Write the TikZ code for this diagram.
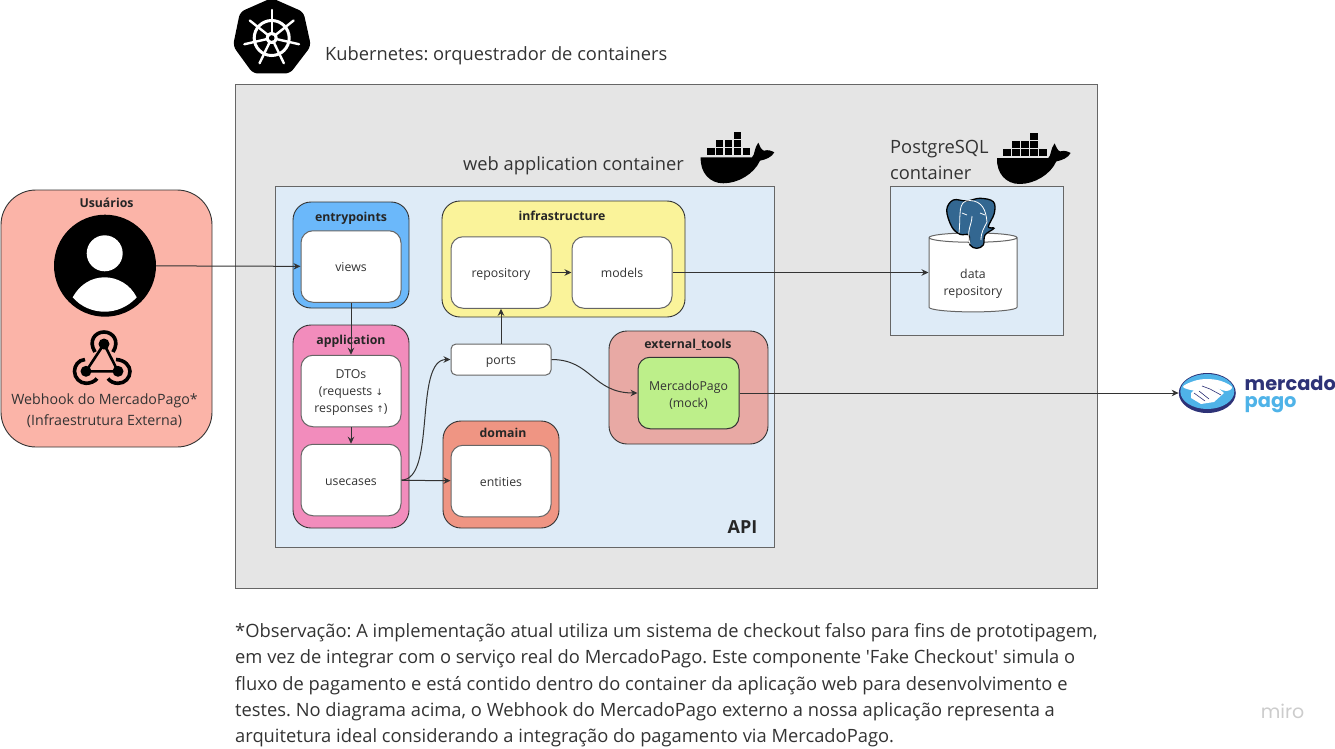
\documentclass[tikz,border=0pt]{standalone}
\usepackage{fontspec}
\setmainfont{Open Sans}
\newfontfamily\notefont{Open Sans}
\newfontfamily\arrowfont{DejaVu Sans}
\newfontfamily\logofont{Poppins}
\usetikzlibrary{arrows.meta,shapes.geometric}
\definecolor{inkgray}{HTML}{333333}
\definecolor{edgegray}{HTML}{666666}
\definecolor{clustergray}{HTML}{E5E5E5}
\definecolor{apiblue}{HTML}{DEEBF7}
\definecolor{usersred}{HTML}{FBB4A8}
\definecolor{entryblue}{HTML}{6BB8FA}
\definecolor{infrayellow}{HTML}{FAF39A}
\definecolor{apppink}{HTML}{F28CBC}
\definecolor{domainred}{HTML}{EF9583}
\definecolor{toolsred}{HTML}{E8A9A4}
\definecolor{mockgreen}{HTML}{BDEF8A}
\definecolor{pgblue}{HTML}{336791}
\definecolor{mpnavy}{HTML}{2D3277}
\definecolor{mpblue}{HTML}{4FB3E8}
\newcommand{\boxstrut}{\rule[-3.2pt]{0pt}{16.6pt}}
\tikzset{
    conn/.style={draw=inkgray, line width=1pt, -{Stealth[length=7pt,width=6.5pt]}},
    planebox/.style={draw=edgegray, line width=1.2pt, anchor=north west, inner sep=0pt},
    groupbox/.style={draw=inkgray, line width=0.9pt, rounded corners=18pt, inner sep=0pt},
    innerbox/.style={draw=edgegray, line width=1pt, fill=white, rounded corners=12pt,
            inner sep=0pt, minimum width=100pt, minimum height=71.5pt, align=center,
            text=inkgray, font=\fontsize{12.3}{17}\selectfont,
            execute at begin node=\boxstrut, execute at end node=\boxstrut},
    grouptitle/.style={text=black!85, font=\fontsize{12.3}{15}\selectfont\bfseries, inner sep=0pt,
            execute at begin node=\boxstrut},
    bigtext/.style={text=inkgray, font=\fontsize{18.3}{25.5}\selectfont, inner sep=0pt, align=left},
    dockerwhale/.pic={
            \foreach \bx/\by in {33.7/2,15.7/10,24.7/10,33.7/10,7/18.3,15.7/18.3,24.7/18.3,33.7/18.3,42.7/18.3} {
                    \fill[black] (\bx,\by) rectangle +(7.5,6.8);
                }
            \fill[black] (0.7,27.3) -- (52,27.3) .. controls (55,25) and (54,18) .. (58.3,12.7)
            .. controls (60,16) and (61,20) .. (64,20.7) .. controls (68,19.5) and (71,20.5) .. (74.3,22.3)
            .. controls (72,27) and (66,29.5) .. (60,30.7) .. controls (54,44) and (38,53.3) .. (23.3,53.3)
            .. controls (10,53.3) and (0,43) .. (0.7,27.3) -- cycle;
        }
}
\begin{document}
\frenchspacing
\begin{tikzpicture}[x=1pt, y=-1pt]
    \useasboundingbox (0,0) rectangle (1335,749);
    % Containers
    \node (cluster) [planebox, fill=clustergray, minimum width=862pt, minimum height=504pt] at (235,84) {};
    \node (api) [planebox, fill=apiblue, minimum width=499pt, minimum height=361pt] at (275,186) {};
    \node (pgbox) [planebox, fill=apiblue, minimum width=173pt, minimum height=149pt] at (890,186) {};
    \node (users) [groupbox, fill=usersred, rounded corners=35pt, minimum width=211pt, minimum height=257pt] at (106.5,318.5) {};
    % Groups
    \node (entrypoints) [groupbox, fill=entryblue, minimum width=116pt, minimum height=106pt] at (351,255) {};
    \node (infrastructure) [groupbox, fill=infrayellow, minimum width=243pt, minimum height=116pt] at (563.5,259) {};
    \node (application) [groupbox, fill=apppink, minimum width=116pt, minimum height=203pt] at (351,426.5) {};
    \node (domain) [groupbox, fill=domainred, minimum width=116pt, minimum height=107pt] at (501,474.5) {};
    \node (tools) [groupbox, fill=toolsred, minimum width=159pt, minimum height=113pt] at (688.5,387.5) {};
    % Group titles
    \node (usersTitle) [grouptitle] at (106.5,202.5) {Usuários};
    \node (entryTitle) [grouptitle] at (351,216.3) {entrypoints};
    \node (infraTitle) [grouptitle] at (562,215.3) {infrastructure};
    \node (appTitle) [grouptitle] at (351,339.3) {application};
    \node (domainTitle) [grouptitle] at (503,432.3) {domain};
    \node (toolsTitle) [grouptitle] at (688,343.3) {external\_tools};
    % Inner boxes
    \node (views) [innerbox] at (351,266.5) {views};
    \node (repository) [innerbox] at (501,272.5) {repository};
    \node (models) [innerbox] at (622,272.5) {models};
    \node (dtos) [innerbox] at (351,391) {\rule{0pt}{13pt}DTOs\\(requests {\arrowfont\fontsize{9}{9}\selectfont ↓}\\responses {\arrowfont\fontsize{9}{9}\selectfont ↑})};
    \node (usecases) [innerbox] at (351,480) {usecases};
    \node (entities) [innerbox] at (501,481) {entities};
    \node (ports) [innerbox, rounded corners=5pt, minimum height=31pt] at (501,359.5) {ports};
    \node (mock) [innerbox, fill=mockgreen, draw=inkgray, minimum width=101pt] at (688.5,393) {\rule{0pt}{14.5pt}MercadoPago\\(mock)};
    \node (data) [cylinder, shape border rotate=90, aspect=0.16, draw=edgegray, line width=1pt, cylinder uses custom fill,
        cylinder body fill=white, cylinder end fill=white, inner sep=0pt, minimum width=88pt, minimum height=79pt,
        align=center, text=inkgray, font=\fontsize{12.3}{17}\selectfont] at (973,275) {\rule{0pt}{9pt}\\data\\repository};
    % Big labels
    \node (k8sLabel) [bigtext, anchor=west] at (325,56.2) {Kubernetes: orquestrador de containers};
    \node (webLabel) [bigtext, anchor=west] at (463,166.2) {web application container};
    \node (pgLabel) [bigtext, anchor=north west] at (890,140.5) {PostgreSQL\\container};
    \node (apiLabel) [text=black!85, font=\fontsize{18}{20}\selectfont\bfseries, inner sep=0pt] at (742.5,527.5) {API};
    \node (webhookLabel) [align=center, text=inkgray, inner sep=0pt, font=\fontsize{14.2}{21}\selectfont] at (104.5,411) {Webhook do MercadoPago*\\(Infraestrutura Externa)};
    \node (note) [anchor=north west, align=left, text=inkgray, inner sep=0pt, font=\notefont\fontsize{18.33}{26.25}\selectfont] at (235,623.5) {%
        *Observação: A implementação atual utiliza um sistema de checkout falso para fins de prototipagem,\\
        em vez de integrar com o serviço real do MercadoPago. Este componente 'Fake Checkout' simula o\\
        fluxo de pagamento e está contido dentro do container da aplicação web para desenvolvimento e\\
        testes. No diagrama acima, o Webhook do MercadoPago externo a nossa aplicação representa a\\
        arquitetura ideal considerando a integração do pagamento via MercadoPago.};
    \node (miro) [text=black!20, inner sep=0pt, font=\logofont\fontsize{19}{19}\selectfont] at (1282.5,711) {miro};
    % Docker whales
    \pic at (700,130) {dockerwhale};
    \pic at (996.3,130.7) {dockerwhale};
    % Kubernetes wheel
    \fill[black, rounded corners=5pt] (271.7,-2) -- (303.5,12) -- (311,46) -- (290,73.5) -- (253,73.5) -- (233,46) -- (240,12) -- cycle;
    \coordinate (wheel) at (271.7,38);
    \draw[white, line width=3pt] (wheel) circle (17.5);
    \foreach \i in {0,...,6} {
            \draw[white, line width=2.4pt, line cap=round] (wheel) -- +({-90+360/7*\i}:28);
        }
    \fill[white] (wheel) circle (6);
    \fill[black] (wheel) circle (2.8);
    % User icon
    \node (user) [circle, fill=black, inner sep=0pt, minimum size=102pt] at (105,265.7) {};
    \fill[white] (104.7,253.3) circle (18);
    \fill[white] (72.7,297.3) .. controls (80,284) and (92,277.3) .. (104.7,277.3)
    .. controls (117,277.3) and (130,284) .. (136.7,297.3)
    .. controls (128,307) and (116,311.7) .. (104.7,311.7)
    .. controls (93,311.7) and (81,307) .. (72.7,297.3) -- cycle;
    % Webhook icon
    \coordinate (hookA) at (104,344);
    \coordinate (hookB) at (86,371.3);
    \coordinate (hookC) at (118,371.3);
    \draw[black, line width=2.6pt] (hookA) -- (hookB) -- (hookC) -- cycle;
    \foreach \p in {hookA,hookB,hookC} {
            \fill[black] (\p) circle (5.5);
        }
    \draw[black, line width=3.6pt] (95,352) .. controls (88,341) and (95,332) .. (104,332)
    .. controls (113,332) and (120,341) .. (113,352);
    \draw[black, line width=3.6pt] (85,359.5) .. controls (78,360) and (74.5,366) .. (74.5,371.3)
    .. controls (74.5,378) and (80,383.3) .. (86,383.3) .. controls (90,383.3) and (95,381.5) .. (97,378.5);
    \draw[black, line width=3.6pt] (116,359.5) .. controls (125,360) and (130,366) .. (130,371.3)
    .. controls (130,378) and (125,383.3) .. (118,383.3) .. controls (114,383.3) and (110,381.5) .. (108,378.5);
    % Elephant
    \filldraw[fill=pgblue, draw=black, line width=1.3pt] plot[smooth cycle, tension=0.6] coordinates {
            (946.7,210) (953.3,200) (966.7,201) (980,198.3) (993.3,201.7) (994.3,213.3) (988.3,226.7)
            (994,228.3) (985,235) (983.3,245) (976.7,248.3) (970,245) (968.7,235) (960,234.3) (951.7,226.7)};
    \draw[white, line width=0.8pt] (959,233) .. controls (961,215) and (957,200) .. (970,200.5)
    .. controls (982,201) and (986,210) .. (987,222) .. controls (984,228) and (981,232) .. (981,240);
    \draw[white, line width=0.8pt] (970,244) .. controls (966,230) and (972,225) .. (972,216);
    \draw[white, line width=0.8pt] (962,213) -- (967,215) (980,213) -- (985,215);
    % MercadoPago logo
    \node (mpLogo) [ellipse, fill=mpnavy, inner sep=0pt, minimum width=57pt, minimum height=40pt] at (1207.3,393) {};
    \fill[mpblue] (1207.3,391.5) ellipse (27 and 17.5);
    \fill[white] plot[smooth cycle, tension=0.6] coordinates {
            (1183,387) (1194,381) (1207,379) (1221,381) (1232,387) (1226,391) (1212,387) (1198,391)};
    \fill[white] (1191,393) -- (1199,385.5) -- (1208,382) -- (1217,387) -- (1224,393) -- (1214,402) -- (1201,404) -- (1191,398) -- cycle;
    \draw[mpnavy, line width=0.6pt] (1194,393) -- (1205,401) (1199,391) -- (1209,399) (1202,386) -- (1210,389) (1210,389) -- (1221,395);
    \node (mpWord) [inner sep=0pt, anchor=west, align=left, font=\logofont\fontsize{19.4}{17.3}\selectfont\bfseries] at (1244.5,394.2) {\textcolor{mpnavy}{mercado}\\\textcolor{mpblue}{pago}};
    % Connectors
    \draw[conn] (user) -- (views);
    \draw[conn] (views) -- (dtos);
    \draw[conn] (dtos) -- (usecases);
    \draw[conn] (usecases) -- (entities);
    \draw[conn] (usecases.east) .. controls +(35,0) and +(-37,0) .. (ports.west);
    \draw[conn] (ports) -- (ports |- repository.south);
    \draw[conn] (repository) -- (models);
    \draw[conn] (models.east) -- (models.east -| data.west);
    \draw[conn] (ports.east) .. controls +(40,0) and +(-45,0) .. (mock.west);
    \draw[conn] (mock) -- (mpLogo);
\end{tikzpicture}
\end{document}
